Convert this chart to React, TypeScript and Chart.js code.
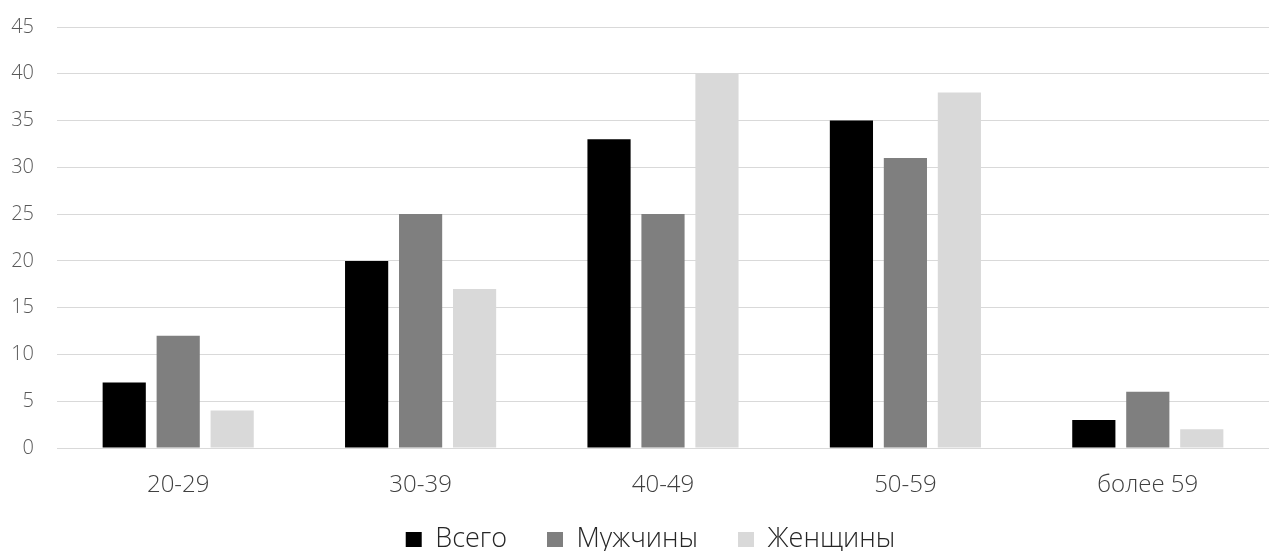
import React, { useEffect, useRef } from "react";
import { Chart, registerables } from "chart.js";

Chart.register(...registerables);

const categories = ["20-29", "30-39", "40-49", "50-59", "более 59"];
const total = [7, 20, 33, 35, 3];
const men = [12, 25, 25, 31, 6];
const women = [4, 17, 40, 38, 2];
const seriesNames = ["Всего", "Мужчины", "Женщины"];
const seriesColors = ["#000000", "#7f7f7f", "#d9d9d9"];

const extendLabelArea = {
  id: "extendLabelArea",
  afterLayout(chart: any) {
    const x = chart.scales.x;
    if (x) x.bottom = chart.height;
    const y = chart.scales.y;
    if (y) y.left = 0;
  },
};

export default function App() {
  const ref = useRef<HTMLCanvasElement | null>(null);
  useEffect(() => {
    if (!ref.current) return;
    const font = "'Open Sans', sans-serif";
    const chart = new Chart(ref.current, {
      type: "bar",
      data: {
        labels: categories,
        datasets: [total, men, women].map((d, i) => ({
          label: seriesNames[i],
          data: d,
          backgroundColor: seriesColors[i],
          borderWidth: 0,
          categoryPercentage: 0.668,
          barPercentage: 0.8,
        })),
      },
      plugins: [extendLabelArea],
      options: {
        animation: false,
        responsive: false,
        layout: { padding: { top: 27, right: 0, left: 32, bottom: -12 } },
        plugins: {
          tooltip: { enabled: false },
          legend: {
            position: "bottom",
            labels: {
              font: { family: font, size: 27, weight: 300 },
              color: "#262626",
              boxWidth: 16,
              boxHeight: 15,
              padding: 40,
            },
          },
        },
        scales: {
          x: {
            afterFit: (s: any) => {
              s.height = 38;
            },
            grid: { display: false, drawTicks: false },
            border: { display: true, color: "#d9d9d9", width: 1 },
            ticks: {
              font: { family: font, size: 24, weight: 300 },
              color: "#404040",
              padding: 23,
            },
          },
          y: {
            min: 0,
            max: 45,
            afterFit: (s: any) => {
              s.width = 25;
              s.paddingTop = 0;
              s.paddingBottom = 0;
            },
            grid: { color: "#d9d9d9", drawTicks: false },
            border: { display: false },
            ticks: {
              stepSize: 5,
              font: { family: font, size: 20, weight: 300 },
              color: "#595959",
              padding: 23,
            },
          },
        },
      },
    });
    return () => chart.destroy();
  }, []);
  return (
    <div style={{ position: "fixed", left: 0, top: 0, width: 1269, height: 551, background: "#fff" }}>
      <canvas ref={ref} width={1269} height={551} style={{ display: "block" }} />
    </div>
  );
}
